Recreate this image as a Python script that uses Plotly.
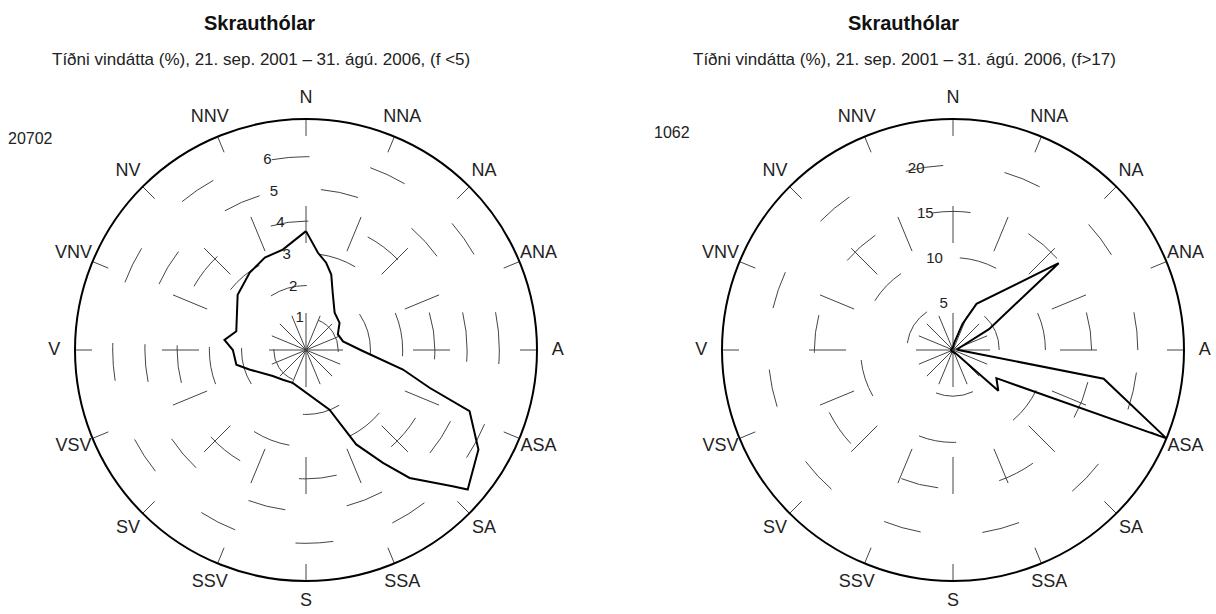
import plotly.graph_objects as go

W, H = 1216, 614

# Compass labels (Faroese)
compass_deg = [0, 22.5, 45, 67.5, 90, 112.5, 135, 157.5, 180, 202.5, 225, 247.5, 270, 292.5, 315, 337.5]
compass_txt = ["N", "NNA", "NA", "ANA", "A", "ASA", "SA", "SSA", "S", "SSV", "SV", "VSV", "V", "VNV", "NV", "NNV"]

# Left rose: weak wind (f < 5), frequency in %
left_dir = [0, 7, 13, 18.5, 25, 37.5, 51, 64, 77, 91, 101.4, 107, 110.5, 120, 130.8, 132.9,
            141, 145.7, 152, 158.5, 202, 218, 232, 251, 258, 270, 277, 285, 309, 324, 336, 347]
left_freq = [3.69, 3.04, 2.78, 2.47, 1.96, 1.46, 1.34, 1.10, 1.18, 1.76, 3.07, 4.01, 5.42, 6.18, 6.63, 6.21,
             5.11, 4.24, 3.32, 1.99, 1.10, 1.17, 1.31, 1.86, 2.21, 2.27, 2.55, 2.24, 2.73, 2.97, 3.14, 3.20]
left_ticks = [1, 2, 3, 4, 5, 6]
left_max = 7.17
left_count = "20702"
left_sub = "Tíðni vindátta (%), 21. sep. 2001 – 31. ágú. 2006, (f <5)"

# Right rose: strong wind (f > 17), frequency in %
right_dir = [0, 10, 20, 27, 50.6, 60, 70, 80, 90, 100.8, 112.5, 123, 132, 140, 160, 180, 200, 220, 240,
             260, 280, 300, 320, 340]
right_freq = [0.3, 0.8, 3.0, 5.6, 14.8, 4.5, 0.8, 0.5, 0.6, 16.6, 25.0, 5.6, 6.6, 0.5, 0.3, 0.2, 0.2, 0.2, 0.2,
              0.2, 0.2, 0.2, 0.2, 0.2]
right_ticks = [5, 10, 15, 20]
right_max = 25.0
right_count = "1062"
right_sub = "Tíðni vindátta (%), 21. sep. 2001 – 31. ágú. 2006, (f>17)"

title_txt = "Skrauthólar"

FONT = "Liberation Sans, Arial, sans-serif"
R_PX = 231          # outer circle radius in px
LABEL_PX = 252      # compass label centre radius in px
RAD_LABEL_DIR = 348.5  # direction along which radial tick labels sit
centers = [(306, 350), (953, 350)]   # pixel centres of the two roses


def px_x(x):
    return x / W


def px_y(y):
    return 1 - y / H


def domain(cx, cy, rad):
    return dict(x=[px_x(cx - rad), px_x(cx + rad)], y=[px_y(cy + rad), px_y(cy - rad)])


fig = go.Figure()
panels = [(left_dir, left_freq, left_ticks, left_max), (right_dir, right_freq, right_ticks, right_max)]
for i, (dirs, freq, ticks, rmax) in enumerate(panels):
    sp = "polar" if i == 0 else "polar2"
    ring = "polar3" if i == 0 else "polar4"
    fig.add_trace(go.Scatterpolar(
        theta=list(dirs) + [dirs[0]], r=list(freq) + [freq[0]],
        mode="lines", line=dict(color="black", width=2),
        subplot=sp, showlegend=False, hoverinfo="skip"))
    # radial tick labels
    fig.add_trace(go.Scatterpolar(
        theta=[RAD_LABEL_DIR] * len(ticks), r=ticks,
        mode="text", text=[str(t) for t in ticks], textposition="middle center",
        textfont=dict(family=FONT, size=15, color="#222"), cliponaxis=False,
        subplot=sp, showlegend=False, hoverinfo="skip"))
    # compass labels on an outer label ring, centred on each direction
    fig.add_trace(go.Scatterpolar(
        theta=compass_deg, r=[1.0] * len(compass_deg),
        mode="text", text=compass_txt, textposition="middle center",
        textfont=dict(family=FONT, size=18, color="#222"), cliponaxis=False,
        subplot=ring, showlegend=False, hoverinfo="skip"))


def polar_layout(cx, cy, rmax, ticks):
    return dict(
        domain=domain(cx, cy, R_PX),
        bgcolor="white",
        angularaxis=dict(
            direction="clockwise", rotation=90,
            tickmode="array", tickvals=compass_deg,
            showticklabels=False, ticks="",
            showline=True, linecolor="black", linewidth=2,
            showgrid=True, gridcolor="#444", gridwidth=1, griddash="37px,70px",
        ),
        radialaxis=dict(
            range=[0, rmax], tickmode="array", tickvals=ticks,
            showticklabels=False, showline=False, ticks="",
            showgrid=True, gridcolor="#444", gridwidth=1, griddash="38px,62px",
        ),
    )


def ring_layout(cx, cy):
    return dict(
        domain=domain(cx, cy, LABEL_PX),
        bgcolor="rgba(0,0,0,0)",
        angularaxis=dict(direction="clockwise", rotation=90, showline=False, showgrid=False,
                         showticklabels=False, ticks=""),
        radialaxis=dict(range=[0, 1.001], showline=False, showgrid=False, showticklabels=False, ticks=""),
    )


annotations = []
for sub, cnt, cpos, tx, sx in [
        (left_sub, left_count, (30, 138), 259, 261),
        (right_sub, right_count, (672, 132), 903, 904)]:
    annotations.append(dict(x=px_x(tx), y=px_y(23), xref="paper", yref="paper", text="<b>" + title_txt + "</b>",
                            showarrow=False, font=dict(family=FONT, size=20, color="#111"),
                            xanchor="center", yanchor="middle"))
    annotations.append(dict(x=px_x(sx), y=px_y(59), xref="paper", yref="paper", text=sub,
                            showarrow=False, font=dict(family=FONT, size=17, color="#222"),
                            xanchor="center", yanchor="middle"))
    annotations.append(dict(x=px_x(cpos[0]), y=px_y(cpos[1]), xref="paper", yref="paper", text=cnt,
                            showarrow=False, font=dict(family=FONT, size=16, color="#222"),
                            xanchor="center", yanchor="middle"))

fig.update_layout(
    width=W, height=H, margin=dict(l=0, r=0, t=0, b=0),
    paper_bgcolor="white", plot_bgcolor="white",
    polar=polar_layout(centers[0][0], centers[0][1], left_max, left_ticks),
    polar2=polar_layout(centers[1][0], centers[1][1], right_max, right_ticks),
    polar3=ring_layout(*centers[0]),
    polar4=ring_layout(*centers[1]),
    annotations=annotations, showlegend=False,
)

# remove the browser's default page margin so the 1216x614 figure fills the window exactly
fig.write_html("out.html", config={"displayModeBar": False},
               post_script="document.body.style.margin='0';document.body.style.overflow='hidden';")
